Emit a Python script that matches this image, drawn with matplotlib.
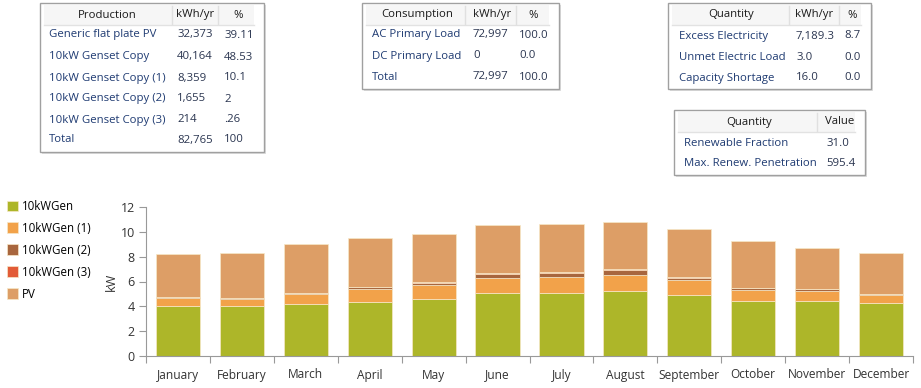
import matplotlib.pyplot as plt
from matplotlib.patches import Rectangle

plt.rcParams['font.family'] = ['Open Sans', 'DejaVu Sans']

months = ['January', 'February', 'March', 'April', 'May', 'June', 'July',
          'August', 'September', 'October', 'November', 'December']
gen = [4.0, 4.0, 4.22, 4.36, 4.62, 5.08, 5.08, 5.2, 4.95, 4.46, 4.46, 4.28]
gen1 = [0.68, 0.6, 0.74, 1.0, 1.1, 1.22, 1.28, 1.35, 1.2, 0.88, 0.78, 0.67]
gen2 = [0.05, 0.06, 0.09, 0.17, 0.16, 0.3, 0.33, 0.38, 0.17, 0.1, 0.13, 0.05]
gen3 = [0.01, 0.01, 0.02, 0.02, 0.06, 0.08, 0.06, 0.1, 0.05, 0.02, 0.02, 0.01]
pv = [3.46, 3.66, 3.99, 3.96, 3.92, 3.9, 3.91, 3.8, 3.89, 3.84, 3.27, 3.25]

series_names = ['10kWGen', '10kWGen (1)', '10kWGen (2)', '10kWGen (3)', 'PV']
series_colors = ['#adb629', '#f2a24a', '#a8663e', '#e25b37', '#dd9e66']

prod_rows = [['Generic flat plate PV', '32,373', '39.11'],
             ['10kW Genset Copy', '40,164', '48.53'],
             ['10kW Genset Copy (1)', '8,359', '10.1'],
             ['10kW Genset Copy (2)', '1,655', '2'],
             ['10kW Genset Copy (3)', '214', '.26'],
             ['Total', '82,765', '100']]
cons_rows = [['AC Primary Load', '72,997', '100.0'],
             ['DC Primary Load', '0', '0.0'],
             ['Total', '72,997', '100.0']]
qty_rows = [['Excess Electricity', '7,189.3', '8.7'],
            ['Unmet Electric Load', '3.0', '0.0'],
            ['Capacity Shortage', '16.0', '0.0']]
val_rows = [['Renewable Fraction', '31.0'],
            ['Max. Renew. Penetration', '595.4']]

W, H = 921, 388
fig = plt.figure(figsize=(W / 100, H / 100), dpi=100)

# chart area in pixel coordinates
x0, x1, yb, yt = 146, 913, 356, 207
ax = fig.add_axes([x0 / W, 1 - yb / H, (x1 - x0) / W, (yb - yt) / H])

series = [gen, gen1, gen2, gen3, pv]
xs = range(len(months))
bottom = [0.0] * len(months)
handles = []
for vals, name, col in zip(series, series_names, series_colors):
    b = ax.bar(xs, vals, bottom=bottom, width=0.69, color=col, label=name,
               edgecolor='#f7e8c8', linewidth=0.5)
    handles.append(b)
    bottom = [a + v for a, v in zip(bottom, vals)]

ax.set_xlim(-0.5, len(months) - 0.5)
ax.set_ylim(0, 12)
ax.set_yticks(range(0, 13, 2))
ax.set_xticks([i - 0.5 for i in range(len(months) + 1)], minor=False)
ax.set_xticklabels([])
ax.set_xticks(list(xs), minor=True)
ax.set_xticklabels(months, minor=True)
ax.tick_params(axis='x', which='minor', length=0, pad=9, labelsize=8.6, labelcolor='#333333')
ax.tick_params(axis='x', which='major', length=5, color='#999999', direction='out')
ax.tick_params(axis='y', length=5, color='#999999', labelsize=9, labelcolor='#333333', pad=3)
for s in ['top', 'right']:
    ax.spines[s].set_visible(False)
for s in ['left', 'bottom']:
    ax.spines[s].set_color('#999999')
ax.set_ylabel('kW', fontsize=9, color='#333333', labelpad=2)

fig.legend(handles=handles, labels=series_names, loc='upper left',
           bbox_to_anchor=(2 / W, 1 - 195 / H), frameon=False, fontsize=8.3,
           handlelength=1.0, handleheight=1.0, handletextpad=0.3,
           labelspacing=0.78, borderaxespad=0)

# overlay for the summary tables
ov = fig.add_axes([0, 0, 1, 1])
ov.set_xlim(0, W)
ov.set_ylim(H, 0)
ov.axis('off')

label_color = '#1f3b72'
num_color = '#2a3550'
fs = 8.2


def draw_table(left, right, top, bottom, headers, header_cx, seps, col_x, rows, row_y):
    ov.add_patch(Rectangle((left + 1.5, top + 1.5), right - left, bottom - top,
                           facecolor='#dddddd', edgecolor='none', zorder=1))
    ov.add_patch(Rectangle((left, top), right - left, bottom - top,
                           facecolor='white', edgecolor='#a0a0a0', linewidth=1, zorder=2))
    ov.add_patch(Rectangle((left + 4, top + 2), right - left - 14, 20,
                           facecolor='#f6f6f6', edgecolor='none', zorder=2))
    ov.plot([left + 4, right - 10], [top + 22, top + 22], color='#e2e2e2', lw=1, zorder=3)
    for sx in seps:
        ov.plot([sx, sx], [top + 3, top + 21], color='#e0e0e0', lw=1, zorder=3)
    for h, cx in zip(headers, header_cx):
        ov.text(cx, top + 12, h, ha='center', va='center', fontsize=fs, color='#1a1a1a', zorder=4)
    for r, y in zip(rows, row_y):
        for j, (t, cx) in enumerate(zip(r, col_x)):
            ov.text(cx, y, t, ha='left', va='center', fontsize=fs,
                    color=label_color if j == 0 else num_color, zorder=4)


draw_table(40, 264, 3, 152, ['Production', 'kWh/yr', '%'], [107, 195, 238],
           [172, 218], [49, 177, 224], prod_rows, [35, 57, 78, 99, 120, 140])
draw_table(362, 559, 3, 89, ['Consumption', 'kWh/yr', '%'], [417, 492, 533],
           [465, 516], [372, 473, 519], cons_rows, [35, 56, 77])
draw_table(668, 871, 3, 89, ['Quantity', 'kWh/yr', '%'], [731, 814, 852],
           [789, 839], [679, 796, 844], qty_rows, [36, 57, 78])
draw_table(674, 865, 110, 175, ['Quantity', 'Value'], [749, 840],
           [817], [684, 826], val_rows, [143, 164])

fig.savefig('out.png', dpi=100)
